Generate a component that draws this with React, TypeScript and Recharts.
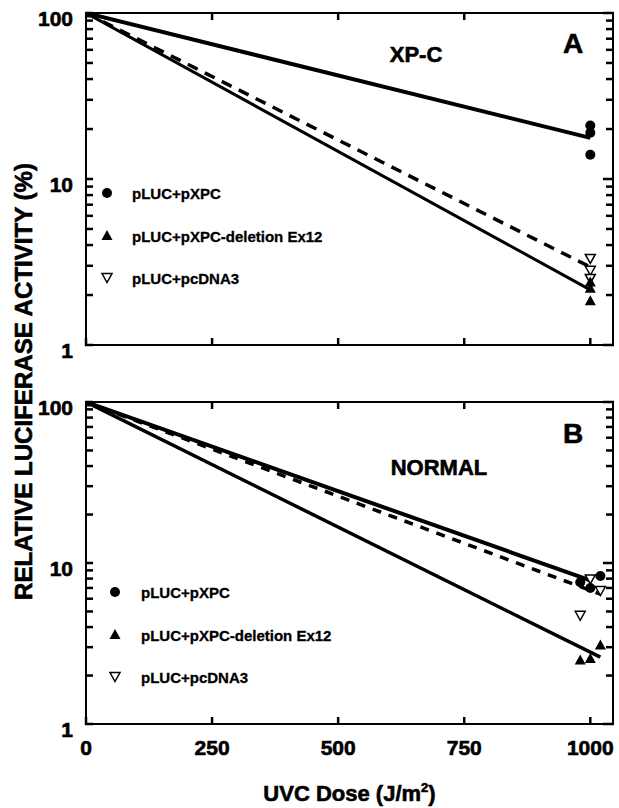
import React from "react";
import { ComposedChart, Line, Scatter, XAxis, YAxis, Legend, Label } from "recharts";

const FONT = "'Liberation Sans', Arial, Helvetica, sans-serif";

// axes
const doseTicks = [0, 250, 500, 750, 1000];
const topTicks = [250, 500, 750];
const logTicks = [1, 2, 3, 4, 5, 6, 7, 8, 9, 10, 20, 30, 40, 50, 60, 70, 80, 90, 100];
const labeledTicks = [1, 10, 100];
const doseDomain = [0, 1045];
const valueDomain = [1, 100];

const legendLabels = ["pLUC+pXPC", "pLUC+pXPC-deletion Ex12", "pLUC+pcDNA3"];

// unirradiated control, 100 % for every construct
const startPts = [{ dose: 0, value: 100 }];

// panel A, XP-C cells
const aXpcPts = [
  { dose: 1000, value: 21 },
  { dose: 1000, value: 19 },
  { dose: 1000, value: 14 },
];
const aDelPts = [
  { dose: 1000, value: 2.4 },
  { dose: 1000, value: 2.2 },
  { dose: 1000, value: 1.85 },
];
const aVecPts = [
  { dose: 1000, value: 3.3 },
  { dose: 1000, value: 2.8 },
  { dose: 1000, value: 2.5 },
];
const aXpcFit = [{ dose: 0, value: 100 }, { dose: 1000, value: 17.7 }];
const aDelFit = [{ dose: 0, value: 100 }, { dose: 1000, value: 2.15 }];
const aVecFit = [{ dose: 0, value: 100 }, { dose: 1000, value: 2.95 }];

// panel B, normal cells
const bXpcPts = [
  { dose: 980, value: 7.6 },
  { dose: 1000, value: 7.0 },
  { dose: 1020, value: 8.3 },
];
const bDelPts = [
  { dose: 980, value: 2.5 },
  { dose: 1000, value: 2.55 },
  { dose: 1020, value: 3.1 },
];
const bVecPts = [
  { dose: 980, value: 4.7 },
  { dose: 1000, value: 7.9 },
  { dose: 1020, value: 6.7 },
];
const bXpcFit = [{ dose: 0, value: 100 }, { dose: 1000, value: 7.8 }];
const bDelFit = [{ dose: 0, value: 100 }, { dose: 1020, value: 2.6 }];
const bVecFit = [{ dose: 0, value: 100 }, { dose: 1020, value: 6.4 }];

const Dot = (p: any) => <circle cx={p.cx} cy={p.cy} r={5} fill="#000" />;
const Tri = (p: any) => (
  <path d={`M${p.cx},${p.cy - 5.5}L${p.cx + 5.5},${p.cy + 4.5}L${p.cx - 5.5},${p.cy + 4.5}Z`} fill="#000" />
);
const DownTri = (p: any) => (
  <path
    d={`M${p.cx - 5},${p.cy - 4.5}L${p.cx + 5},${p.cy - 4.5}L${p.cx},${p.cy + 4.5}Z`}
    fill="#fff"
    stroke="#000"
    strokeWidth={1.5}
  />
);
const Sq = (p: any) => <rect x={p.cx - 4.5} y={p.cy - 4.5} width={9} height={9} fill="#000" />;

const legendShapes = [Dot, Tri, DownTri];

const bigText = { fontFamily: FONT, fontWeight: "bold" as const, fill: "#000", stroke: "#000", strokeWidth: 0.6 };

// with recharts' default tickSize (6) + tickMargin (2) the tick props sit 8px off the axis line;
// step back to the axis and draw the tick inward from there
const GAP = 8;
const TICK = 7;
const W = 2.5;

const ValueTick = (props: any) => {
  const { x, y, payload } = props;
  const ax = x + GAP;
  return (
    <g>
      <rect x={ax - 1} y={y - W / 2} width={TICK + 1} height={W} fill="#000" />
      {labeledTicks.includes(payload.value) && (
        <text x={ax - 13} y={y + 12.5} textAnchor="end" fontSize={21} {...bigText}>
          {payload.value}
        </text>
      )}
    </g>
  );
};

const RightTick = (props: any) => {
  const { x, y, payload } = props;
  const ax = x - GAP;
  const len = labeledTicks.includes(payload.value) ? TICK + 3 : TICK;
  return <rect x={ax - len} y={y - W / 2} width={len + 1} height={W} fill="#000" />;
};

const TopTick = (props: any) => {
  const { x, y } = props;
  const ay = y + GAP;
  return <rect x={x - W / 2} y={ay - 1} width={W} height={TICK + 1} fill="#000" />;
};

const makeDoseTick = (showLabel: boolean) => (props: any) => {
  const { x, y, payload } = props;
  const ay = y - GAP;
  return (
    <g>
      <rect x={x - W / 2} y={ay - TICK} width={W} height={TICK + 1} fill="#000" />
      {showLabel && (
        <text x={x} y={ay + 31} textAnchor="middle" fontSize={21} {...bigText}>
          {payload.value}
        </text>
      )}
    </g>
  );
};

const DoseTitle = (props: any) => {
  const vb = props.viewBox;
  return (
    <text x={vb.x + vb.width / 2} y={vb.y + 77} textAnchor="middle" fontSize={22} {...bigText}>
      UVC Dose (J/m<tspan fontSize={13} dy={-9}>2</tspan>
      <tspan dy={9}>)</tspan>
    </text>
  );
};

function LegendBox({ textX }: { textX: number }) {
  return (
    <svg width={260} height={120}>
      {legendLabels.map((name, i) => {
        const Shape = legendShapes[i];
        const cy = 15 + i * 42.5;
        return (
          <g key={name}>
            <Shape cx={12} cy={cy} />
            <text x={textX} y={cy + 6} fontFamily={FONT} fontWeight="bold" fontSize={15} fill="#000" stroke="#000" strokeWidth={0.3}>
              {name}
            </text>
          </g>
        );
      })}
    </svg>
  );
}

const axisLine = { stroke: "#000", strokeWidth: 2 };

interface PanelProps {
  height: number;
  marginTop: number;
  bottomHeight: number;
  showDose: boolean;
  xpcPts: any[];
  delPts: any[];
  vecPts: any[];
  xpcFit: any[];
  delFit: any[];
  vecFit: any[];
  legendLeft: number;
  legendTop: number;
  legendTextX: number;
  dash: string;
  delWidth: number;
}

function Panel(p: PanelProps) {
  const common = { interval: 0 as const, allowDataOverflow: true, axisLine, tickLine: false };
  return (
    <ComposedChart width={619} height={p.height} margin={{ top: p.marginTop, right: 1, left: 0, bottom: 0 }}>
      <XAxis
        xAxisId="b"
        type="number"
        dataKey="dose"
        domain={doseDomain}
        ticks={doseTicks}
        height={p.bottomHeight}
        tick={makeDoseTick(p.showDose)}
        {...common}
      >
        {p.showDose && <Label content={DoseTitle} />}
      </XAxis>
      <XAxis
        xAxisId="t"
        orientation="top"
        type="number"
        dataKey="dose"
        domain={doseDomain}
        ticks={topTicks}
        height={5}
        tick={TopTick}
        {...common}
      />
      <YAxis
        yAxisId="l"
        type="number"
        scale="log"
        dataKey="value"
        domain={valueDomain}
        ticks={logTicks}
        width={86}
        tick={ValueTick}
        {...common}
      />
      <YAxis
        yAxisId="r"
        orientation="right"
        type="number"
        scale="log"
        dataKey="value"
        domain={valueDomain}
        ticks={logTicks}
        width={5}
        tick={RightTick}
        {...common}
      />
      <Line xAxisId="b" yAxisId="l" data={p.xpcFit} dataKey="value" type="linear" stroke="#000" strokeWidth={4} dot={false} isAnimationActive={false} />
      <Line xAxisId="b" yAxisId="l" data={p.delFit} dataKey="value" type="linear" stroke="#000" strokeWidth={p.delWidth} dot={false} isAnimationActive={false} />
      <Line xAxisId="b" yAxisId="l" data={p.vecFit} dataKey="value" type="linear" stroke="#000" strokeWidth={3.5} strokeDasharray={p.dash} dot={false} isAnimationActive={false} />
      <Scatter xAxisId="b" yAxisId="l" data={p.vecPts} dataKey="value" shape={DownTri} isAnimationActive={false} />
      <Scatter xAxisId="b" yAxisId="l" data={p.delPts} dataKey="value" shape={Tri} isAnimationActive={false} />
      <Scatter xAxisId="b" yAxisId="l" data={p.xpcPts} dataKey="value" shape={Dot} isAnimationActive={false} />
      <Scatter xAxisId="b" yAxisId="l" data={startPts} dataKey="value" shape={Sq} isAnimationActive={false} />
      <Legend
        layout="vertical"
        align="center"
        verticalAlign="middle"
        wrapperStyle={{ left: p.legendLeft, top: p.legendTop, width: 260, height: 120 }}
        content={() => <LegendBox textX={p.legendTextX} />}
      />
    </ComposedChart>
  );
}

export default function App() {
  return (
    <div style={{ position: "absolute", left: 0, top: 0, width: 619, height: 808, background: "#fff" }}>
      <div style={{ position: "absolute", left: 0, top: 0 }}>
        <Panel
          height={370}
          marginTop={8}
          bottomHeight={25}
          showDose={false}
          xpcPts={aXpcPts}
          delPts={aDelPts}
          vecPts={aVecPts}
          xpcFit={aXpcFit}
          delFit={aDelFit}
          vecFit={aVecFit}
          legendLeft={95}
          legendTop={178}
          legendTextX={37}
          dash="11 8"
          delWidth={3}
        />
      </div>
      <div style={{ position: "absolute", left: 0, top: 380 }}>
        <Panel
          height={428}
          marginTop={17}
          bottomHeight={84}
          showDose={true}
          xpcPts={bXpcPts}
          delPts={bDelPts}
          vecPts={bVecPts}
          xpcFit={bXpcFit}
          delFit={bDelFit}
          vecFit={bVecFit}
          legendLeft={103}
          legendTop={197}
          legendTextX={38}
          dash="9 8"
          delWidth={3.5}
        />
      </div>
      <svg width={619} height={808} style={{ position: "absolute", left: 0, top: 0, pointerEvents: "none" }}>
        <text
          transform="translate(23,381.5) rotate(-90)"
          textAnchor="middle"
          dy="0.36em"
          fontSize={24}
          textLength={437}
          lengthAdjust="spacingAndGlyphs"
          {...bigText}
        >
          RELATIVE LUCIFERASE ACTIVITY (%)
        </text>
        <text x={416} y={62} textAnchor="middle" fontSize={22} {...bigText}>XP-C</text>
        <text x={573} y={53} textAnchor="middle" fontSize={28} {...bigText}>A</text>
        <text x={439} y={475} textAnchor="middle" fontSize={22} {...bigText}>NORMAL</text>
        <text x={573} y={443} textAnchor="middle" fontSize={28} {...bigText}>B</text>
      </svg>
    </div>
  );
}
